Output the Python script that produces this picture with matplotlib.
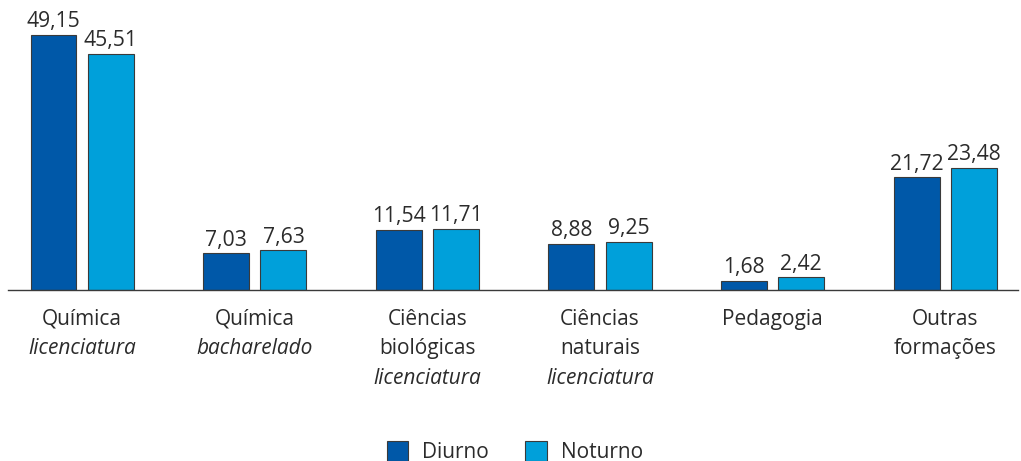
import matplotlib.pyplot as plt
import numpy as np

# data
categorias = [
    [("Química", "normal"), ("licenciatura", "italic")],
    [("Química", "normal"), ("bacharelado", "italic")],
    [("Ciências", "normal"), ("biológicas", "normal"), ("licenciatura", "italic")],
    [("Ciências", "normal"), ("naturais", "normal"), ("licenciatura", "italic")],
    [("Pedagogia", "normal")],
    [("Outras", "normal"), ("formações", "normal")],
]
diurno = [49.15, 7.03, 11.54, 8.88, 1.68, 21.72]
noturno = [45.51, 7.63, 11.71, 9.25, 2.42, 23.48]
series_names = ["Diurno", "Noturno"]

cor_diurno = "#0058a8"
cor_noturno = "#00a0da"
cor_texto = "#2b2b2b"

plt.rcParams['font.family'] = ['Open Sans', 'DejaVu Sans']

fig = plt.figure(figsize=(10.21, 4.61), dpi=100)
ax = fig.add_axes([0.0078, 0.371, 0.989, 0.619])

x = np.arange(len(diurno))
w = 0.266
off = 0.166
b1 = ax.bar(x - off, diurno, w, color=cor_diurno, edgecolor="#3a3a3a", linewidth=0.8)
b2 = ax.bar(x + off, noturno, w, color=cor_noturno, edgecolor="#3a3a3a", linewidth=0.8)

# value labels with comma decimal
for bars, vals in [(b1, diurno), (b2, noturno)]:
    for rect, v in zip(bars, vals):
        ax.annotate(f"{v:.2f}".replace(".", ","),
                    (rect.get_x() + rect.get_width() / 2, v),
                    xytext=(0, 2), textcoords="offset points",
                    ha="center", va="bottom", fontsize=15.2, color=cor_texto)

# category labels, line by line (some lines italic)
for i, linhas in enumerate(categorias):
    for j, (txt, estilo) in enumerate(linhas):
        ax.annotate(txt, (x[i], 0), xycoords="data",
                    xytext=(0, -21 - j * 21.4), textcoords="offset points",
                    ha="center", va="center", fontsize=15,
                    style=estilo, color=cor_texto, annotation_clip=False)

ax.set_xlim(-0.43, 5.42)
ax.set_ylim(0, 55)
for s in ["top", "right", "left"]:
    ax.spines[s].set_visible(False)
ax.spines["bottom"].set_color("#3a3a3a")
ax.spines["bottom"].set_linewidth(1.0)
ax.set_xticks([])
ax.set_yticks([])

fig.legend([b1, b2], series_names, loc="lower center", ncol=2,
           bbox_to_anchor=(0.504, -0.045), frameon=False, fontsize=15,
           handlelength=1.05, handleheight=1.05, columnspacing=1.75,
           handletextpad=0.65, labelcolor=cor_texto)

fig.savefig("out.png", dpi=100)
